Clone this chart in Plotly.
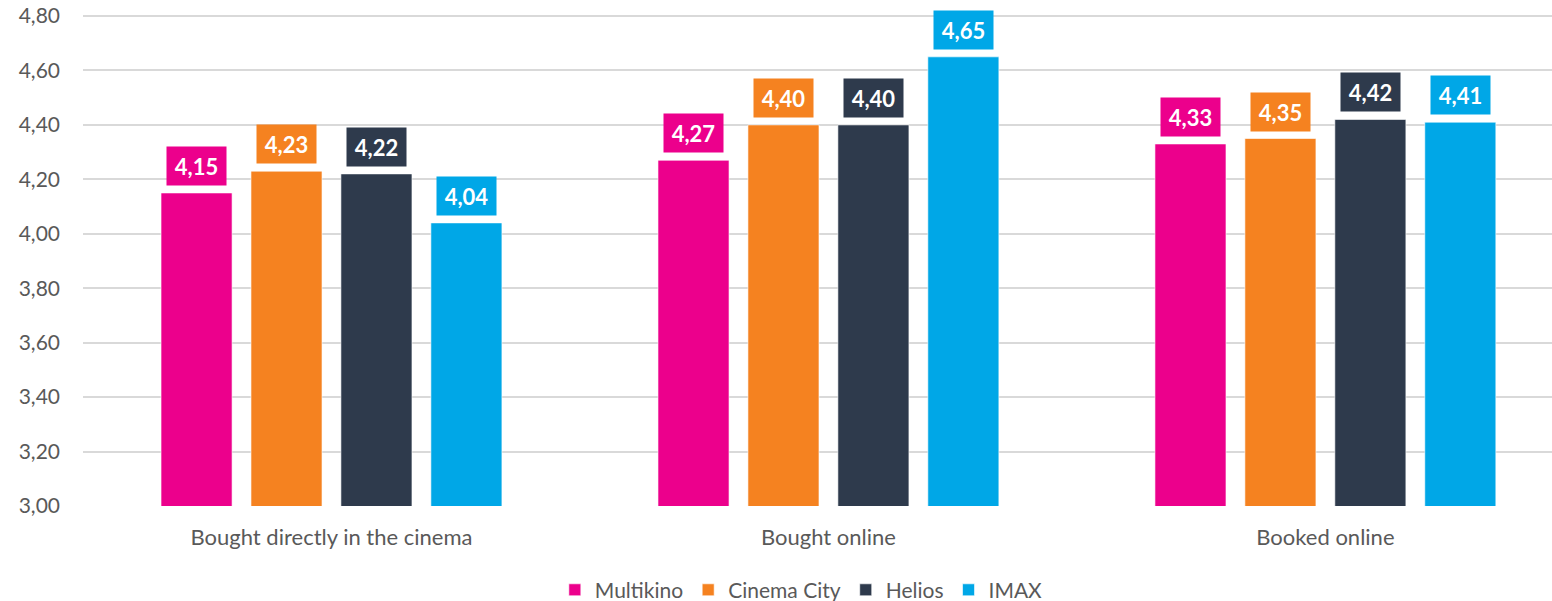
"""Ticket purchase ratings by cinema chain - grouped bars with boxed labels."""

import plotly.graph_objects as go

categories = ["Bought directly in the cinema", "Bought online", "Booked online"]
chains = ["Multikino", "Cinema City", "Helios", "IMAX"]
multikino = [4.15, 4.27, 4.33]
cinema_city = [4.23, 4.40, 4.35]
helios = [4.22, 4.40, 4.42]
imax = [4.04, 4.65, 4.41]
y_ticks = [3.0, 3.2, 3.4, 3.6, 3.8, 4.0, 4.2, 4.4, 4.6, 4.8]

series = [multikino, cinema_city, helios, imax]
colors = ["#EC008C", "#F58220", "#2E3A4C", "#00A7E7"]
FONT = "Lato, Open Sans, sans-serif"
GREY = "#595959"

fig = go.Figure()
for name, vals, color in zip(chains, series, colors):
    fig.add_trace(go.Bar(
        x=categories, y=vals, name=name,
        marker=dict(color=color, line=dict(color="rgba(255,255,255,0.6)", width=1)),
        hoverinfo="skip",
    ))

# boxed value labels above every bar
slot_px = 90
for i, (vals, color) in enumerate(zip(series, colors)):
    for cat, v in zip(categories, vals):
        fig.add_annotation(
            x=cat, y=v, xref="x", yref="y",
            text=f"<b>{v:.2f}</b>".replace(".", ","),
            showarrow=False, yanchor="bottom",
            xshift=(i - 1.5) * slot_px, yshift=7,
            bgcolor=color, width=51, height=30, borderpad=4,
            font=dict(family=FONT, size=22, color="white"),
        )

fig.update_layout(
    width=1552, height=601,
    paper_bgcolor="white", plot_bgcolor="white",
    margin=dict(l=83, r=0, t=11, b=95, autoexpand=False),
    separators=",.",
    barmode="group", bargap=0.276, bargroupgap=0.21,
    font=dict(family=FONT, color=GREY, size=21),
    showlegend=True,
    legend=dict(
        orientation="h", x=0.489, xanchor="center",
        yref="paper", y=-0.170, yanchor="middle",
        font=dict(family=FONT, size=21, color=GREY),
        itemwidth=30, traceorder="normal",
    ),
    xaxis=dict(
        range=[-0.5, 2.456], showgrid=False, showline=False,
        tickfont=dict(family=FONT, size=22, color=GREY),
        ticks="", automargin=False, ticklabelstandoff=16,
    ),
    yaxis=dict(
        range=[3.0, 4.8184], tickvals=y_ticks, tickformat=".2f",
        gridcolor="#D9D9D9", gridwidth=2, zeroline=False, showline=False,
        tickfont=dict(family=FONT, size=21, color=GREY),
        ticklabelstandoff=22, automargin=False, ticklabeloverflow="allow",
    ),
)

# drop the browser's default 8px body margin so the figure fills the window
fig.write_html(
    "out.html",
    config={"displayModeBar": False},
    post_script="document.body.style.margin='0';",
)
